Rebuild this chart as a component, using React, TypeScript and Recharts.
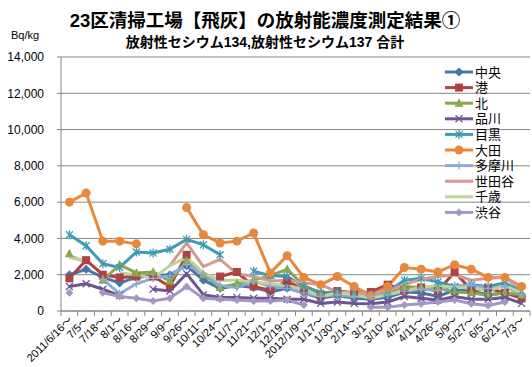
import React from 'react';
import { LineChart, Line, XAxis, YAxis, CartesianGrid } from 'recharts';

const FONT = '"Liberation Sans", Arial, "Noto Sans CJK JP", sans-serif';
const GRID = '#868686';

const LABELS = [
  '2011/6/16～', '7/5～', '7/18～', '8/1～', '8/16～', '8/29～', '9/9～', '9/26～', '10/11～', '10/24～',
  '11/7～', '11/21～', '12/1～', '12/19～', '2012/1/9～', '1/17～', '1/30～', '2/14～', '3/1～', '3/10～',
  '4/2～', '4/11～', '4/26～', '5/9～', '5/27～', '6/5～', '6/21～', '7/3～',
];
const Y_TICKS = [0, 2000, 4000, 6000, 8000, 10000, 12000, 14000];

// Bq/kg, one value per sampling period (null = no measurement)
const CHUO = [2000, 2300, 1850, 1550, 1850, 1950, 2000, 2500, 1700, 1250, 1400, 1300, 1050, 1250, 1000, 700, 850, 700, 650, 750, 1050, 1000, 800, 1150, 1100, 900, 1000, 800];
const MINATO = [1800, 2800, 2000, 1850, 1900, 1900, 1350, 3100, null, 1900, 2150, 1350, 1150, 1650, 1150, 850, 1100, 1000, 1050, 1450, 1150, 1300, 1100, 2150, 1150, 1250, 1000, 700];
const KITA = [3150, null, 1700, 2550, 2100, 2150, 1650, 2750, 2000, 1300, 1500, 1700, 1950, 2300, 1400, 1000, 1000, 900, 800, 1000, 1350, 1300, 1250, 1050, 1000, 850, 1000, 900];
const SHINAGAWA = [1350, 1500, 1200, 850, null, 1200, 1100, 2050, 900, 750, 750, 700, 700, 650, 650, 420, 500, 420, 400, 500, 800, 700, 600, 800, 650, 650, 750, 420];
const MEGURO = [4200, 3600, 2600, 2400, 3250, 3200, 3400, 3950, 3650, 3100, null, 2200, 1950, 1900, 1350, 1000, 1050, 1000, 900, 1050, 1700, 1800, 1600, 1350, 1450, 1350, 1550, 1100];
const OTA = [6000, 6500, 3850, 3850, 3700, null, null, 5700, 4200, 3750, 3850, 4300, 2100, 3050, 1850, 1450, 1900, 1350, 850, 1350, 2400, 2300, 2150, 2550, 2300, 1850, 1850, 1350];
const TAMAGAWA = [null, null, 1750, 950, 1500, 1800, 1950, 2550, 2050, 1400, 1300, 1650, 1350, 1250, 1000, 800, 900, 800, 800, 900, 1100, 1200, 1150, 1400, 1400, 1250, 1350, 900];
const SETAGAYA = [3050, 2700, null, null, null, null, 2500, 3750, 2450, 2850, 2050, 1900, 1650, 1700, 1550, 1450, 1050, 1000, 950, 1100, 1450, 1750, 1900, 2000, 1700, 1800, 1850, 1200];
const CHITOSE = [2950, 2750, null, 2100, 2000, 1800, 2500, 2950, 2100, 1700, 1700, 1600, 1500, 1400, 1200, 800, 1000, 900, 700, 900, 1100, 1300, 1400, 1300, 1300, 1100, 1400, 1000];
const SHIBUYA = [1000, null, 1000, 800, 700, 550, 700, 1350, 700, 650, 600, 550, 550, 600, 330, null, null, null, 200, 200, 330, 400, 500, 600, 400, 300, 500, null];

type Shape = 'diamond' | 'square' | 'triangle' | 'x' | 'star' | 'circle' | 'plus' | 'none' | 'smalldiamond';

const SERIES: { key: string; name: string; color: string; shape: Shape; values: (number | null)[] }[] = [
  { key: 'chuo', name: '中央', color: '#4674AB', shape: 'diamond', values: CHUO },
  { key: 'minato', name: '港', color: '#AE4340', shape: 'square', values: MINATO },
  { key: 'kita', name: '北', color: '#8AA84D', shape: 'triangle', values: KITA },
  { key: 'shinagawa', name: '品川', color: '#6F5492', shape: 'x', values: SHINAGAWA },
  { key: 'meguro', name: '目黒', color: '#3E9BB4', shape: 'star', values: MEGURO },
  { key: 'ota', name: '大田', color: '#E8883A', shape: 'circle', values: OTA },
  { key: 'tamagawa', name: '多摩川', color: '#8EAAD6', shape: 'plus', values: TAMAGAWA },
  { key: 'setagaya', name: '世田谷', color: '#D69795', shape: 'none', values: SETAGAYA },
  { key: 'chitose', name: '千歳', color: '#BCD39A', shape: 'none', values: CHITOSE },
  { key: 'shibuya', name: '渋谷', color: '#A597C3', shape: 'smalldiamond', values: SHIBUYA },
];

const data = LABELS.map((label, i) => {
  const row: Record<string, number | string | null> = { x: i + 0.5, label };
  SERIES.forEach((s) => {
    row[s.key] = s.values[i];
  });
  return row;
});

function Marker({ shape, cx, cy, color }: { shape: Shape; cx: number; cy: number; color: string }) {
  switch (shape) {
    case 'diamond':
      return <path d={`M${cx},${cy - 4.5}L${cx + 4.5},${cy}L${cx},${cy + 4.5}L${cx - 4.5},${cy}Z`} fill={color} />;
    case 'smalldiamond':
      return <path d={`M${cx},${cy - 4}L${cx + 4},${cy}L${cx},${cy + 4}L${cx - 4},${cy}Z`} fill={color} />;
    case 'square':
      return <rect x={cx - 4} y={cy - 4} width={8} height={8} fill={color} />;
    case 'triangle':
      return <path d={`M${cx},${cy - 5}L${cx + 4.5},${cy + 3.5}L${cx - 4.5},${cy + 3.5}Z`} fill={color} />;
    case 'x':
      return (
        <path d={`M${cx - 3.5},${cy - 3.5}L${cx + 3.5},${cy + 3.5}M${cx - 3.5},${cy + 3.5}L${cx + 3.5},${cy - 3.5}`} stroke={color} strokeWidth={1.3} />
      );
    case 'star':
      return (
        <path
          d={`M${cx - 3.5},${cy - 3.5}L${cx + 3.5},${cy + 3.5}M${cx - 3.5},${cy + 3.5}L${cx + 3.5},${cy - 3.5}M${cx},${cy - 4.5}L${cx},${cy + 4.5}`}
          stroke={color}
          strokeWidth={1.3}
        />
      );
    case 'circle':
      return <circle cx={cx} cy={cy} r={4.5} fill={color} />;
    case 'plus':
      return <path d={`M${cx - 4},${cy}L${cx + 4},${cy}M${cx},${cy - 4}L${cx},${cy + 4}`} stroke={color} strokeWidth={1.3} />;
    default:
      return null;
  }
}

function makeDot(shape: Shape, color: string) {
  return (props: any) => {
    const { cx, cy, index, value } = props;
    if (value == null || cy == null || cx == null) return <g key={index} />;
    return (
      <g key={index}>
        <Marker shape={shape} cx={cx} cy={cy} color={color} />
      </g>
    );
  };
}

function DateTick(props: any) {
  const { x, y, payload } = props;
  const label = LABELS[Math.floor(payload.value)];
  return (
    <g transform={`translate(${x + 1},${y})`}>
      <text x={0} y={0} dy="0.35em" textAnchor="end" transform="rotate(-45)" fontSize={11} fill="#000" fontFamily={FONT}>
        {label}
      </text>
    </g>
  );
}

function ChartLegend() {
  return (
    <svg width={92} height={165} style={{ position: 'absolute', left: 440, top: 62 }}>
      {SERIES.map((s, i) => {
        const cy = 10 + i * 15.6;
        return (
          <g key={s.key}>
            <line x1={5} x2={33} y1={cy} y2={cy} stroke={s.color} strokeWidth={3} />
            <Marker shape={s.shape} cx={19} cy={cy} color={s.color} />
            <text x={35} y={cy} dy="0.36em" fontSize={13} fontFamily={FONT} fill="#000">
              {s.name}
            </text>
          </g>
        );
      })}
    </svg>
  );
}

export default function App() {
  return (
    <div style={{ position: 'absolute', left: 0, top: 0, width: 532, height: 367, background: '#fff', fontFamily: FONT }}>
      <LineChart width={532} height={367} data={data} margin={{ top: 57, right: 2, bottom: 0, left: 0 }}>
        <CartesianGrid vertical={false} stroke={GRID} strokeWidth={1} />
        <YAxis
          type="number"
          domain={[0, 14000]}
          ticks={Y_TICKS}
          width={61}
          axisLine={{ stroke: GRID }}
          tickLine={{ stroke: GRID }}
          tickSize={4}
          tickMargin={13}
          tickFormatter={(v: number) => v.toLocaleString('en-US')}
          tick={{ fill: '#000', fontSize: 12, fontFamily: FONT }}
        />
        <XAxis
          type="number"
          dataKey="x"
          domain={[0, 28]}
          ticks={Array.from({ length: 29 }, (_, i) => i)}
          interval={0}
          height={1}
          axisLine={{ stroke: GRID }}
          tickLine={{ stroke: GRID }}
          tickSize={5}
          tickFormatter={() => ''}
        />
        <XAxis
          xAxisId="lbl"
          type="number"
          dataKey="x"
          domain={[0, 28]}
          ticks={LABELS.map((_, i) => i + 0.5)}
          interval={0}
          height={55}
          axisLine={false}
          tickLine={false}
          tickSize={0}
          tickMargin={6}
          tick={<DateTick />}
        />
        {SERIES.map((s) => (
          <Line
            key={s.key}
            dataKey={s.key}
            name={s.name}
            type="linear"
            stroke={s.color}
            strokeWidth={3}
            dot={makeDot(s.shape, s.color)}
            activeDot={false}
            isAnimationActive={false}
          />
        ))}
      </LineChart>
      <svg width={532} height={60} style={{ position: 'absolute', left: 0, top: 0, pointerEvents: 'none' }}>
        <text x={265} y={26.5} textAnchor="middle" fontSize={18.5} fontWeight="bold" fontFamily={FONT} fill="#000">
          23区清掃工場【飛灰】の放射能濃度測定結果①
        </text>
        <text x={265} y={46.5} textAnchor="middle" fontSize={14} fontWeight="bold" fontFamily={FONT} fill="#000">
          放射性セシウム134,放射性セシウム137 合計
        </text>
        <text x={11} y={39} fontSize={11} fontFamily={FONT} fill="#000">
          Bq/kg
        </text>
      </svg>
      <ChartLegend />
    </div>
  );
}
